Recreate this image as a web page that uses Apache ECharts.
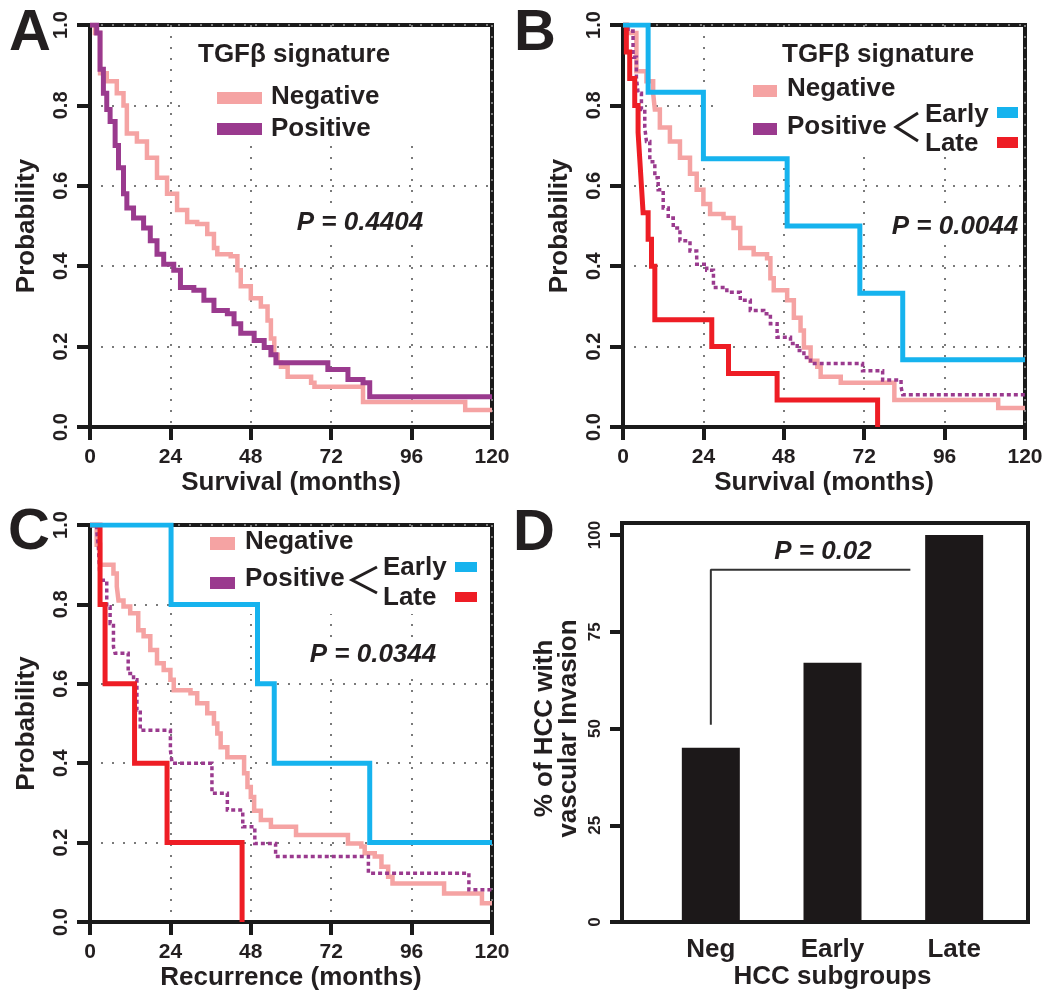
<!DOCTYPE html>
<html><head><meta charset="utf-8">
<script src="https://cdn.jsdelivr.net/npm/echarts@6/dist/echarts.min.js"></script>
<style>html,body{margin:0;padding:0;background:#fff}#c{width:1050px;height:1005px}</style>
</head><body><div id="c"></div>
<script>
// ---------- DATA ----------
const monthTicks = [0, 24, 48, 72, 96, 120];
const probTicks = [0, 0.2, 0.4, 0.6, 0.8, 1.0];
const pctTicks = [0, 25, 50, 75, 100];

// Panel A (survival)
const A_negative = [[0,1],[1.5,0.98],[3,0.88],[5,0.86],[8,0.83],[10,0.80],[11,0.73],[14,0.71],[17,0.67],[20,0.62],[23,0.58],[26,0.54],[29,0.51],[32,0.505],[35,0.48],[37,0.445],[38,0.43],[42,0.425],[44,0.39],[45,0.35],[48,0.32],[51,0.30],[53,0.265],[54,0.22],[55,0.18],[56,0.16],[57,0.15],[59,0.125],[66,0.11],[67,0.10],[81.5,0.062],[112,0.042],[120,0.042]];
const A_positive = [[0,1],[2,0.98],[3,0.89],[4,0.83],[5,0.79],[6,0.76],[7.5,0.70],[8.5,0.645],[10,0.58],[11,0.545],[13,0.52],[16,0.495],[18,0.463],[20,0.43],[22,0.405],[25,0.39],[27,0.347],[31,0.34],[34,0.315],[37,0.29],[41,0.282],[43,0.257],[45,0.233],[49,0.215],[52,0.198],[54,0.18],[55.5,0.16],[71,0.143],[77,0.118],[81.5,0.11],[83.5,0.075],[120,0.075]];

// Panel B (survival)
const B_negative = [[0,1],[1.5,0.98],[4,0.885],[7,0.86],[9,0.83],[9.5,0.79],[11,0.745],[14,0.71],[17,0.67],[20,0.63],[22,0.59],[24,0.555],[26,0.53],[30,0.52],[33,0.495],[35,0.445],[39,0.43],[43,0.42],[44,0.37],[45,0.34],[49,0.315],[51,0.272],[53,0.24],[54,0.198],[56,0.165],[58,0.15],[59,0.125],[65,0.11],[81,0.067],[112,0.047],[120,0.047]];
const B_positive = [[0,1],[1.5,0.985],[3,0.92],[4,0.87],[4.5,0.83],[5.5,0.79],[6.5,0.745],[7,0.71],[8,0.66],[9.5,0.62],[10.5,0.59],[12,0.545],[13.5,0.52],[15,0.495],[17,0.463],[20,0.438],[22,0.405],[25,0.39],[27,0.347],[31,0.335],[35,0.315],[38,0.29],[42,0.282],[44,0.257],[46,0.223],[50,0.208],[52,0.19],[54,0.173],[56,0.158],[71.5,0.14],[77.5,0.117],[83,0.10],[83.5,0.08],[120,0.08]];
const B_early = [[0,1],[7.5,0.833],[24,0.667],[49,0.5],[70.7,0.333],[83.5,0.167],[120,0.167]];
const B_late = [[0,1],[1,0.933],[2,0.867],[3.5,0.8],[4.5,0.733],[5,0.667],[5.5,0.6],[6,0.533],[7.5,0.467],[8.5,0.4],[9.5,0.267],[26.5,0.2],[31.5,0.133],[46,0.067],[76,0]];

// Panel C (recurrence)
const C_negative = [[0,1],[2,0.95],[3,0.90],[7,0.878],[8,0.845],[8.5,0.81],[10,0.795],[12,0.778],[14.4,0.735],[16,0.72],[18,0.685],[20,0.652],[22,0.635],[24,0.61],[25,0.584],[30,0.576],[32,0.551],[35,0.526],[37,0.50],[38,0.475],[39,0.44],[41,0.415],[46,0.375],[47,0.34],[48,0.315],[49,0.28],[51,0.257],[54,0.24],[61.5,0.219],[77,0.198],[81,0.19],[82,0.173],[85,0.165],[87,0.139],[89,0.114],[90.3,0.097],[105.7,0.072],[117,0.047],[120,0.047]];
const C_positive = [[0,1],[2,0.987],[2.5,0.945],[3,0.861],[5,0.794],[6,0.752],[7,0.693],[7.5,0.677],[11.4,0.626],[13,0.61],[14,0.534],[15,0.483],[24,0.433],[24.5,0.40],[36.4,0.324],[41,0.282],[45.6,0.24],[49.2,0.198],[55.4,0.165],[83.1,0.123],[113.1,0.081],[120,0.081]];
const C_early = [[0,1],[24.2,0.8],[50,0.6],[55,0.4],[83.5,0.2],[120,0.2]];
const C_late = [[0,1],[3,0.8],[4.5,0.6],[13.3,0.4],[23,0.2],[45.4,0]];

// Panel D (bars)
const D_categories = ['Neg', 'Early', 'Late'];
const D_values = [45, 67, 100];
const D_bracket = [[0, 51], [0, 91], [1.64, 91]];

// ---------- STYLE ----------
const FF = '"Liberation Sans", Arial, Helvetica, sans-serif';
const BK = '#1a1a1a';
const TX = '#231f20';
const C_SALMON = '#f5a3a3';
const C_PURPLE = '#9a3a8e';
const C_BLUE = '#16b3ee';
const C_RED = '#ee1d25';

function kmX(gi, name) {
  return {
    type: 'value', gridIndex: gi,
    min: monthTicks[0], max: monthTicks[monthTicks.length - 1], interval: monthTicks[1] - monthTicks[0],
    name: name, nameLocation: 'middle', nameGap: 43,
    nameTextStyle: { fontSize: 26, fontWeight: 'bold', color: TX, fontFamily: FF },
    axisLine: { show: true, onZero: false, lineStyle: { color: BK, width: 4 } },
    axisTick: { show: true, length: 13, lineStyle: { color: BK, width: 4 } },
    axisLabel: { margin: 20, fontSize: 21, fontWeight: 'bold', color: TX, fontFamily: FF },
    splitLine: { show: true, lineStyle: { color: '#7a7a7a', width: 2, type: [2, 9] } }
  };
}
function kmY(gi) {
  return {
    type: 'value', gridIndex: gi,
    min: probTicks[0], max: probTicks[probTicks.length - 1], interval: probTicks[1] - probTicks[0],
    name: 'Probability', nameLocation: 'middle', nameGap: 50, nameRotate: 90,
    nameTextStyle: { fontSize: 26, fontWeight: 'bold', color: TX, fontFamily: FF },
    axisLine: { show: true, onZero: false, lineStyle: { color: BK, width: 4 } },
    axisTick: { show: true, length: 13, lineStyle: { color: BK, width: 4 } },
    axisLabel: { rotate: 90, margin: 19, fontSize: 20, fontWeight: 'bold', color: TX, fontFamily: FF,
      formatter: v => v.toFixed(1) },
    splitLine: { show: true, lineStyle: { color: '#7a7a7a', width: 2, type: [2, 9] } }
  };
}
function km(axis, data, color, width, dashed, z) {
  return {
    type: 'line', xAxisIndex: axis, yAxisIndex: axis, data: data, step: 'end',
    symbol: 'none', z: z || 3, silent: true,
    lineStyle: { color: color, width: width, type: dashed ? [4, 3] : 'solid', cap: 'butt', join: 'miter' }
  };
}

// graphic helpers
function txt(x, y, s, size, opts) {
  opts = opts || {};
  return { type: 'text', z: 20, style: Object.assign({
    x: x, y: y, text: s, fill: TX, align: 'left', verticalAlign: 'middle',
    font: (opts.italic ? 'italic ' : '') + 'bold ' + size + 'px ' + FF
  }, opts.style || {}) };
}
function rect(x, y, w, h, fill, z) {
  return { type: 'rect', z: z === undefined ? 1 : z, shape: { x: x, y: y, width: w, height: h }, style: { fill: fill }, silent: true };
}
function chevron(pts) {
  return { type: 'polyline', z: 20, shape: { points: pts }, style: { stroke: TX, lineWidth: 3, fill: null } };
}

const graphics = [
  // panel letters
  txt(9, 34, 'A', 58), txt(514, 34, 'B', 58), txt(8, 533, 'C', 58), txt(513, 534, 'D', 58),
  // legend A
  rect(186, 28, 303, 109, '#fff', 1),
  txt(198, 55, 'TGF\u03B2 signature', 26),
  rect(217, 92, 45, 12, C_SALMON, 20), txt(271, 97, 'Negative', 26),
  rect(217, 123, 45, 12, C_PURPLE, 20), txt(271, 129, 'Positive', 26),
  txt(360, 223, 'P = 0.4404', 26, { italic: true, style: { align: 'center', backgroundColor: '#fff', padding: [2, 4] } }),
  // legend B
  rect(722, 28, 300, 124, '#fff', 1),
  txt(782, 55, 'TGF\u03B2 signature', 26),
  rect(753, 85, 24, 12, C_SALMON, 20), txt(787, 89, 'Negative', 26),
  rect(753, 123, 24, 12, C_PURPLE, 20), txt(787, 127, 'Positive', 26),
  chevron([[918, 113], [896, 127], [918, 141]]),
  txt(925, 115, 'Early', 26), txt(925, 144, 'Late', 26),
  rect(997, 107, 21, 11, C_BLUE, 20), rect(997, 137, 21, 11, C_RED, 20),
  txt(955, 227, 'P = 0.0044', 26, { italic: true, style: { align: 'center', backgroundColor: '#fff', padding: [2, 4] } }),
  // legend C
  rect(203, 528, 286, 86, '#fff', 1),
  rect(210, 537, 25, 13, C_SALMON, 20), txt(245, 542, 'Negative', 26),
  rect(210, 577, 25, 12, C_PURPLE, 20), txt(245, 579, 'Positive', 26),
  chevron([[377, 567], [352, 580], [377, 593]]),
  txt(383, 568, 'Early', 26), txt(383, 598, 'Late', 26),
  rect(455, 562, 22, 10, C_BLUE, 20), rect(455, 592, 22, 10, C_RED, 20),
  txt(373, 655, 'P = 0.0344', 26, { italic: true, style: { align: 'center', backgroundColor: '#fff', padding: [2, 4] } }),
  // D p-value
  txt(823, 552, 'P = 0.02', 26, { italic: true, style: { align: 'center' } })
];

const option = {
  animation: false,
  backgroundColor: '#fff',
  grid: [
    { left: 90, top: 25, width: 402, height: 402, show: true, borderColor: BK, borderWidth: 4 },
    { left: 623, top: 25, width: 402, height: 402, show: true, borderColor: BK, borderWidth: 4 },
    { left: 90, top: 525, width: 402, height: 397, show: true, borderColor: BK, borderWidth: 4 },
    { left: 622, top: 523, width: 406, height: 399, show: true, borderColor: BK, borderWidth: 4 },
    { left: 650, top: 535, width: 365, height: 387, show: false }
  ],
  xAxis: [
    kmX(0, 'Survival (months)'),
    kmX(1, 'Survival (months)'),
    kmX(2, 'Recurrence (months)'),
    { type: 'value', gridIndex: 3, show: false, min: 0, max: 1 },
    { type: 'category', gridIndex: 4, data: D_categories,
      name: 'HCC subgroups', nameLocation: 'middle', nameGap: 42,
      nameTextStyle: { fontSize: 26, fontWeight: 'bold', color: TX, fontFamily: FF },
      axisLine: { show: false, onZero: false }, axisTick: { show: false },
      axisLabel: { margin: 15, fontSize: 26, fontWeight: 'bold', color: TX, fontFamily: FF } },
    { type: 'value', gridIndex: 4, show: false, min: -0.5, max: 2.5, axisLine: { onZero: false } }
  ],
  yAxis: [
    kmY(0), kmY(1), kmY(2),
    { type: 'value', gridIndex: 3, show: false, min: 0, max: 1 },
    { type: 'value', gridIndex: 4, position: 'left', min: pctTicks[0], max: pctTicks[pctTicks.length - 1], interval: pctTicks[1] - pctTicks[0],
      offset: 28,
      name: '% of HCC with\nvascular Invasion', nameLocation: 'middle', nameGap: 41, nameRotate: 90,
      nameTextStyle: { fontSize: 26, fontWeight: 'bold', color: TX, fontFamily: FF, lineHeight: 24 },
      axisLine: { show: false, onZero: false },
      axisTick: { show: true, length: 12, lineStyle: { color: BK, width: 4 } },
      axisLabel: { rotate: 90, margin: 18, fontSize: 17, fontWeight: 'bold', color: TX, fontFamily: FF },
      splitLine: { show: false } }
  ],
  graphic: graphics,
  series: [
    km(0, A_negative, C_SALMON, 4.5),
    km(0, A_positive, C_PURPLE, 5),
    km(1, B_negative, C_SALMON, 4.5),
    km(1, B_positive, C_PURPLE, 3.5, true),
    km(1, B_late, C_RED, 5),
    km(1, B_early, C_BLUE, 5),
    km(2, C_negative, C_SALMON, 4.5),
    km(2, C_positive, C_PURPLE, 3.5, true),
    km(2, C_late, C_RED, 5),
    km(2, C_early, C_BLUE, 5),
    { type: 'bar', xAxisIndex: 4, yAxisIndex: 4, data: D_values, barWidth: 58,
      itemStyle: { color: '#1c1819' }, silent: true },
    { type: 'line', xAxisIndex: 5, yAxisIndex: 4, data: D_bracket, symbol: 'none', silent: true,
      lineStyle: { color: '#333', width: 2 } }
  ]
};
const chart = echarts.init(document.getElementById('c'), null, { renderer: 'canvas' });
chart.setOption(option);
</script>
</body></html>
